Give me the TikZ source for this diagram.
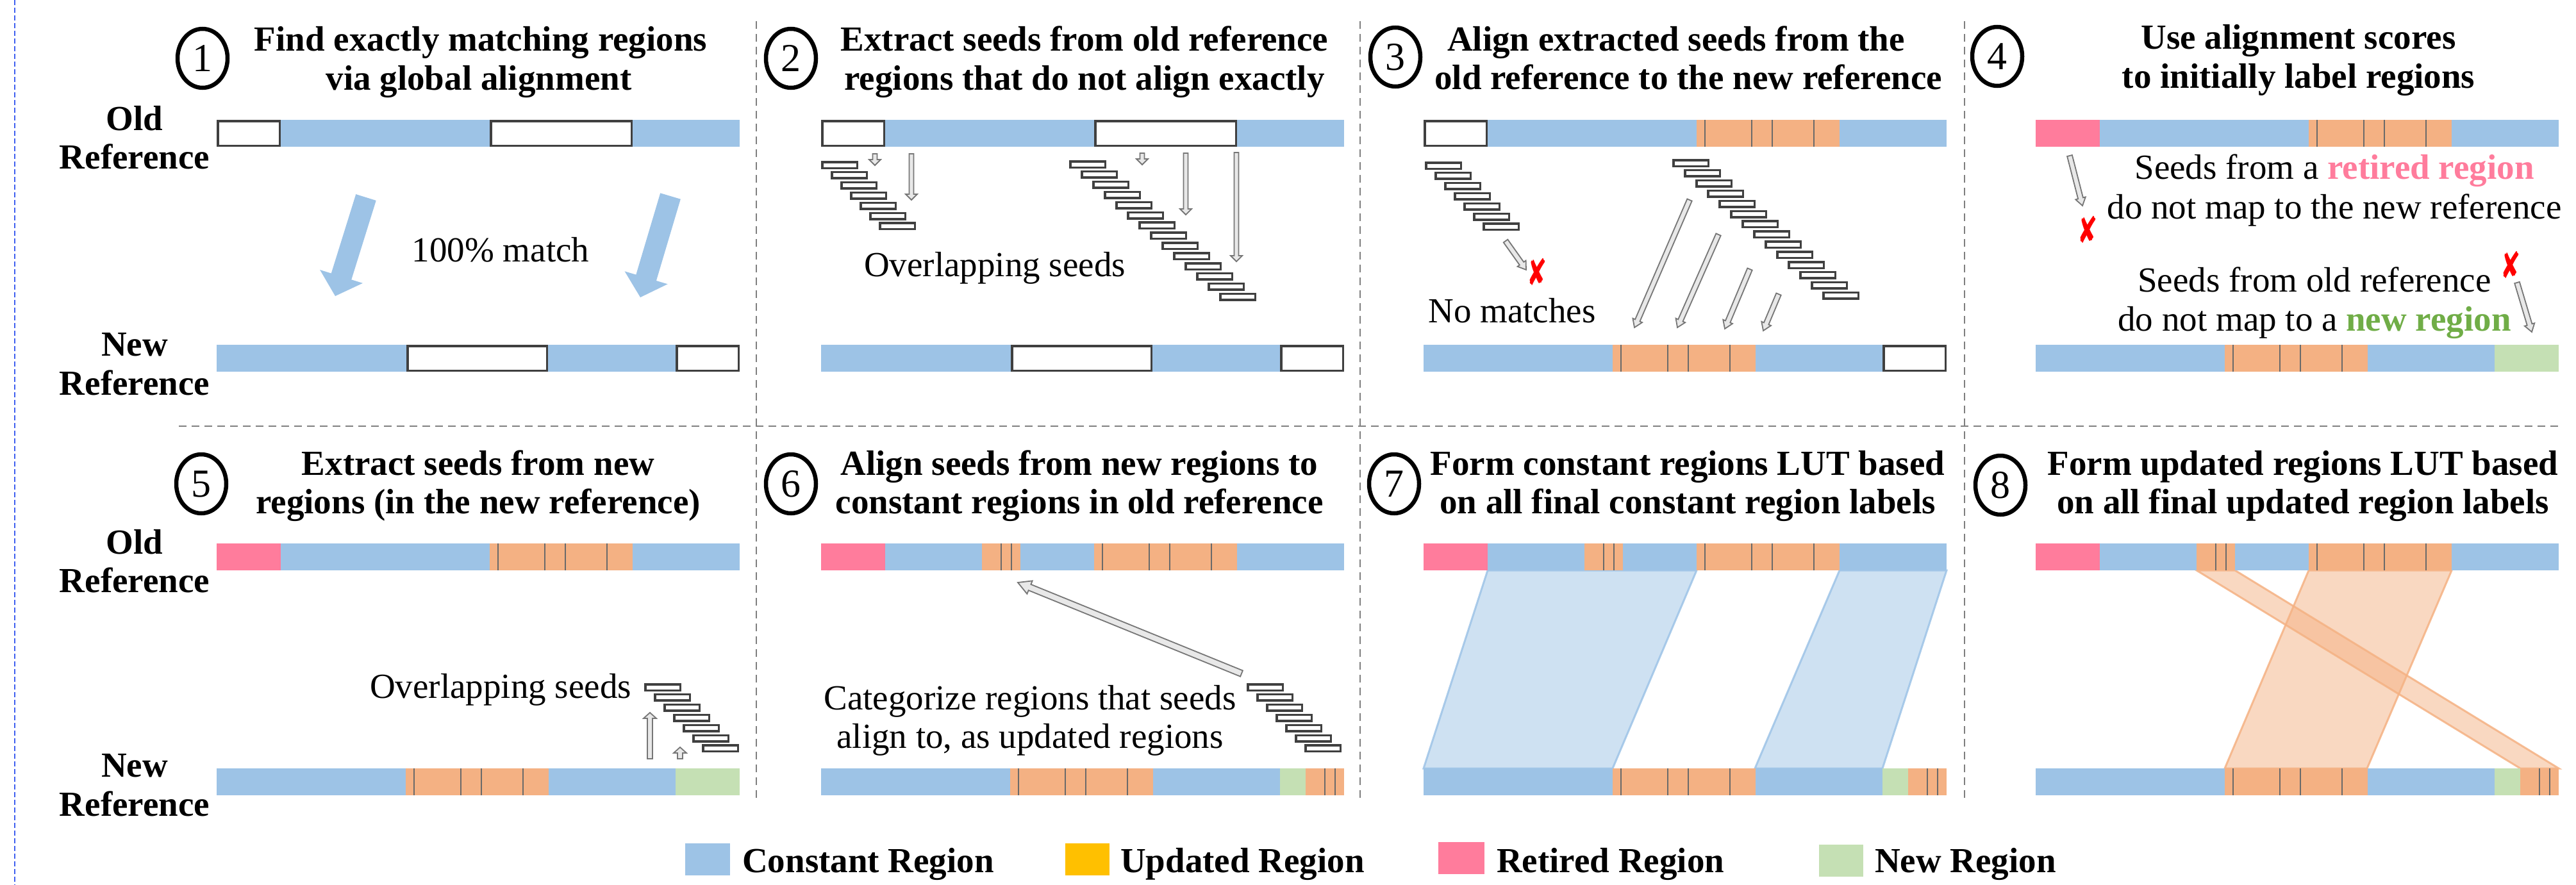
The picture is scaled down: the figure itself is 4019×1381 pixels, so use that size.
\documentclass[tikz,border=0pt]{standalone}
\usepackage{fontspec}
\setmainfont{Liberation Serif}
\newfontfamily\symfont{DejaVu Sans}
\usetikzlibrary{calc,shapes.geometric}
\definecolor{cblue}{HTML}{9DC3E6}
\definecolor{uorange}{HTML}{F4B183}
\definecolor{rpink}{HTML}{FF7C9C}
\definecolor{ngreen}{HTML}{C5E0B4}
\definecolor{ugold}{HTML}{FFC000}
\definecolor{tgreen}{HTML}{70AD47}
\definecolor{seedc}{HTML}{404040}
\definecolor{afill}{HTML}{E8E8E8}
\definecolor{adraw}{HTML}{767676}
\definecolor{sepc}{HTML}{7F7F7F}
\definecolor{tickc}{HTML}{6A6A6A}
\definecolor{xred}{HTML}{FF0000}
\definecolor{bluedash}{HTML}{4060F0}
\newcommand{\tfs}{\fontsize{55}{60}\selectfont}
\newcommand{\myblk}[5]{\fill[#5] ({#1+#3},#2) rectangle ({#1+#4},{#2+42});}
\newcommand{\mytck}[3]{\draw[tickc, line width=2pt] ({#1+#3},#2) -- ({#1+#3},{#2+42});}
\newcommand{\mywbx}[4]{\draw[wbox] ({#1+#3+1.75},{#2+1.75}) rectangle ({#1+#4-1.75},{#2+40.25});}
\newcommand{\myupd}[3]{\myblk{#1}{#2}{#3}{#3+223}{uorange}\mytck{#1}{#2}{#3+13}\mytck{#1}{#2}{#3+86}\mytck{#1}{#2}{#3+118}\mytck{#1}{#2}{#3+183}}
\newcommand{\mysmu}[3]{\myblk{#1}{#2}{#3}{#3+60}{uorange}\mytck{#1}{#2}{#3+30}\mytck{#1}{#2}{#3+46}}
\newcommand{\mybar}[2]{\myblk{#1}{#2}{0}{816}{cblue}}
\newcommand{\myseeds}[5]{\foreach \i in {0,...,#5} {\draw[seedbox] ({#1+#3*\i+1.75},{#2+#4*\i+1.75}) rectangle ++(54.5,9.5);}}
\newcommand{\redcross}{\scalebox{0.85}[1.3]{✘}}
% #1 start, #2 end, #3 half shaft, #4 half head, #5 head length, #6 style
\newcommand{\myarrow}[6]{%
  \coordinate (hh) at ($(#2)!#5pt!(#1)$);
  \filldraw[#6] ($(#1)!#3pt!90:(#2)$) -- ($(hh)!#3pt!90:(#2)$) -- ($(hh)!#4pt!90:(#2)$) -- (#2)
    -- ($(hh)!#4pt!-90:(#2)$) -- ($(hh)!#3pt!-90:(#2)$) -- ($(#1)!#3pt!-90:(#2)$) -- cycle;}
\tikzset{
  titletxt/.style={font=\tfs\bfseries, anchor=base, inner sep=0pt},
  bodytxt/.style={font=\tfs, anchor=base, inner sep=0pt},
  lbltxt/.style={font=\tfs\bfseries, anchor=base, inner sep=0pt},
  legtxt/.style={font=\tfs\bfseries, anchor=base west, inner sep=0pt},
  numcirc/.style={ellipse, draw, line width=6.5pt, minimum width=78pt, minimum height=92pt, inner sep=0pt, font=\fontsize{62}{62}\selectfont},
  seedbox/.style={draw=seedc, line width=3.5pt, fill=white},
  wbox/.style={draw=seedc, line width=3.5pt, fill=white},
  harr/.style={draw=adraw, fill=afill, line width=1.8pt, line join=miter},
  bigarr/.style={fill=cblue, draw=none},
  sepline/.style={draw=sepc, line width=2pt, dash pattern=on 12pt off 8pt},
  redx/.style={text=xred, font=\symfont\fontsize{44}{44}\selectfont, inner sep=0pt},
  lutblue/.style={fill=cblue, fill opacity=0.5, draw=cblue, draw opacity=0.85, line width=3pt, line join=miter},
  lutorange/.style={fill=uorange, fill opacity=0.5, draw=uorange, draw opacity=0.85, line width=3pt, line join=miter},
}
\begin{document}
\begin{tikzpicture}[x=1pt,y=-1pt]
\useasboundingbox (0,0) rectangle (4019,1381);
% separators
\draw[bluedash, line width=2.5pt, dash pattern=on 8pt off 4pt] (23,0) -- (23,1381);
\draw[sepline] (279,665) -- (3991,665);
\foreach \sx in {1180,2122,3065} {\draw[sepline] (\sx,33) -- (\sx,1247);}

% row labels
\node[lbltxt] (old1a) at (210,203) {Old};
\node[lbltxt] (old1b) at (210,263) {Reference};
\node[lbltxt] (new1a) at (210,555) {New};
\node[lbltxt] (new1b) at (210,616) {Reference};
\node[lbltxt] (old2a) at (210,864) {Old};
\node[lbltxt] (old2b) at (210,924) {Reference};
\node[lbltxt] (new2a) at (210,1212) {New};
\node[lbltxt] (new2b) at (210,1273) {Reference};

% circles and titles
\node[numcirc] (c1) at (316,91) {1};
\node[numcirc] (c2) at (1234,91) {2};
\node[numcirc] (c3) at (2177,89) {3};
\node[numcirc] (c4) at (3116,88) {4};
\node[numcirc] (c5) at (314,755) {5};
\node[numcirc] (c6) at (1234,755) {6};
\node[numcirc] (c7) at (2175,755) {7};
\node[numcirc] (c8) at (3121,757) {8};

\node[titletxt] (t1a) at (750,80) {Find exactly matching regions};
\node[titletxt] (t1b) at (747,140) {via global alignment};
\node[titletxt] (t2a) at (1692,80) {Extract seeds from old reference};
\node[titletxt] (t2b) at (1692,140) {regions that do not align exactly};
\node[titletxt] (t3a) at (2615,79) {Align extracted seeds from the};
\node[titletxt] (t3b) at (2634,139) {old reference to the new reference};
\node[titletxt] (t4a) at (3586,77) {Use alignment scores};
\node[titletxt] (t4b) at (3586,137) {to initially label regions};
\node[titletxt] (t5a) at (746,741) {Extract seeds from new};
\node[titletxt] (t5b) at (746,801) {regions (in the new reference)};
\node[titletxt] (t6a) at (1684,741) {Align seeds from new regions to};
\node[titletxt] (t6b) at (1684,801) {constant regions in old reference};
\node[titletxt] (t7a) at (2633,741) {Form constant regions LUT based};
\node[titletxt] (t7b) at (2633,801) {on all final constant region labels};
\node[titletxt] (t8a) at (3593,741) {Form updated regions LUT based};
\node[titletxt] (t8b) at (3593,801) {on all final updated region labels};

% ---------- Panel 1
\mybar{338}{187} \mywbx{338}{187}{0}{100} \mywbx{338}{187}{426}{649}
\mybar{338}{538} \mywbx{338}{538}{296}{517} \mywbx{338}{538}{716}{816}
\coordinate (b1s) at (571,308); \coordinate (b1e) at (523,462);
\coordinate (b2s) at (1046,306); \coordinate (b2e) at (999,464);
\myarrow{b1s}{b1e}{16.5}{35}{32}{bigarr}
\myarrow{b2s}{b2e}{16.5}{35}{32}{bigarr}
\node[bodytxt] (m1) at (781,408) {100\% match};

% ---------- Panel 2
\mybar{1281}{187} \mywbx{1281}{187}{0}{100} \mywbx{1281}{187}{426}{649}
\mybar{1281}{538} \mywbx{1281}{538}{296}{517} \mywbx{1281}{538}{716}{816}
\myseeds{1281}{251}{15}{15.9}{6}
\myseeds{1668}{250}{18}{15.9}{13}
\coordinate (a2as) at (1365,240); \coordinate (a2ae) at (1365,258);
\coordinate (a2bs) at (1422,240); \coordinate (a2be) at (1422,312);
\coordinate (a2cs) at (1782,239); \coordinate (a2ce) at (1782,257);
\coordinate (a2ds) at (1850,239); \coordinate (a2de) at (1850,335);
\coordinate (a2es) at (1929,238); \coordinate (a2ee) at (1929,408);
\myarrow{a2as}{a2ae}{3.5}{9}{9}{harr}
\myarrow{a2bs}{a2be}{3.5}{9}{9}{harr}
\myarrow{a2cs}{a2ce}{3.5}{9}{9}{harr}
\myarrow{a2ds}{a2de}{3.5}{9}{9}{harr}
\myarrow{a2es}{a2ee}{3.5}{9}{9}{harr}
\node[bodytxt] (ov2) at (1552,431) {Overlapping seeds};

% ---------- Panel 3
\mybar{2221}{187} \mywbx{2221}{187}{0}{100} \myupd{2221}{187}{426}
\mybar{2221}{538} \myupd{2221}{538}{295} \mywbx{2221}{538}{716}{816}
\myseeds{2223}{252}{15}{15.9}{6}
\myseeds{2609}{248}{18}{15.9}{13}
\coordinate (a3as) at (2349,376); \coordinate (a3ae) at (2381,421);
\coordinate (a3bs) at (2636,312); \coordinate (a3be) at (2550,511);
\coordinate (a3cs) at (2681,366); \coordinate (a3ce) at (2617,511);
\coordinate (a3ds) at (2730,420); \coordinate (a3de) at (2691,513);
\coordinate (a3es) at (2775,459); \coordinate (a3ee) at (2751,516);
\myarrow{a3as}{a3ae}{4}{8}{12}{harr}
\myarrow{a3bs}{a3be}{4}{8}{12}{harr}
\myarrow{a3cs}{a3ce}{4}{8}{12}{harr}
\myarrow{a3ds}{a3de}{4}{8}{12}{harr}
\myarrow{a3es}{a3ee}{4}{8}{12}{harr}
\node[redx] (x3) at (2398,424) {\redcross};
\node[bodytxt] (nm3) at (2359,503) {No matches};

% ---------- Panel 4
\mybar{3176}{187} \myblk{3176}{187}{0}{100}{rpink} \myupd{3176}{187}{426}
\mybar{3176}{538} \myupd{3176}{538}{295} \myblk{3176}{538}{716}{816}{ngreen}
\node[bodytxt] (s4a) at (3642,279) {Seeds from a \textcolor{rpink}{\bfseries retired region}};
\node[bodytxt] (s4b) at (3642,341) {do not map to the new reference};
\node[bodytxt] (s4c) at (3611,455) {Seeds from old reference};
\node[bodytxt] (s4d) at (3611,516) {do not map to a \textcolor{tgreen}{\bfseries new region}};
\coordinate (a4as) at (3229,243); \coordinate (a4ae) at (3249,321);
\coordinate (a4bs) at (3927,441); \coordinate (a4be) at (3950,518);
\myarrow{a4as}{a4ae}{4}{8}{12}{harr}
\myarrow{a4bs}{a4be}{4}{8}{12}{harr}
\node[redx] (x4a) at (3257,358) {\redcross};
\node[redx] (x4b) at (3917,413) {\redcross};

% ---------- Panel 5
\mybar{338}{848} \myblk{338}{848}{0}{100}{rpink} \myupd{338}{848}{426}
\mybar{338}{1199} \myupd{338}{1199}{295} \myblk{338}{1199}{716}{816}{ngreen}
\myseeds{1005}{1066}{15}{15.9}{6}
\coordinate (a5as) at (1014,1184); \coordinate (a5ae) at (1014,1112);
\coordinate (a5bs) at (1061,1184); \coordinate (a5be) at (1061,1166);
\myarrow{a5as}{a5ae}{4}{10}{9}{harr}
\myarrow{a5bs}{a5be}{4}{10}{9}{harr}
\node[bodytxt] (ov5) at (781,1089) {Overlapping seeds};

% ---------- Panel 6
\mybar{1281}{848} \myblk{1281}{848}{0}{100}{rpink} \mysmu{1281}{848}{251} \myupd{1281}{848}{426}
\mybar{1281}{1199} \myupd{1281}{1199}{295} \myblk{1281}{1199}{716}{756}{ngreen} \mysmu{1281}{1199}{756}
\myseeds{1945}{1066}{15}{15.9}{6}
\coordinate (a6s) at (1937,1051); \coordinate (a6e) at (1588,909);
\myarrow{a6s}{a6e}{5}{11}{20}{harr}
\node[bodytxt] (cat6a) at (1607,1107) {Categorize regions that seeds};
\node[bodytxt] (cat6b) at (1607,1167) {align to, as updated regions};

% ---------- Panel 7
\filldraw[lutblue] (2321,890) -- (2647,890) -- (2516,1199) -- (2221,1199) -- cycle;
\filldraw[lutblue] (2870,890) -- (3037,890) -- (2937,1199) -- (2738,1199) -- cycle;
\mybar{2221}{848} \myblk{2221}{848}{0}{100}{rpink} \mysmu{2221}{848}{251} \myupd{2221}{848}{426}
\mybar{2221}{1199} \myupd{2221}{1199}{295} \myblk{2221}{1199}{716}{756}{ngreen} \mysmu{2221}{1199}{756}

% ---------- Panel 8
\filldraw[lutorange] (3602,890) -- (3825,890) -- (3693,1199) -- (3471,1199) -- cycle;
\filldraw[lutorange] (3427,890) -- (3487,890) -- (3992,1199) -- (3932,1199) -- cycle;
\mybar{3176}{848} \myblk{3176}{848}{0}{100}{rpink} \mysmu{3176}{848}{251} \myupd{3176}{848}{426}
\mybar{3176}{1199} \myupd{3176}{1199}{295} \myblk{3176}{1199}{716}{756}{ngreen} \mysmu{3176}{1199}{756}

% ---------- Legend
\fill[cblue] (1069,1316) rectangle (1139,1366);
\node[legtxt] (lg1) at (1158,1361) {Constant Region};
\fill[ugold] (1662,1316) rectangle (1731,1366);
\node[legtxt] (lg2) at (1748,1361) {Updated Region};
\fill[rpink] (2244,1314) rectangle (2316,1364);
\node[legtxt] (lg3) at (2335,1361) {Retired Region};
\fill[ngreen] (2838,1318) rectangle (2907,1368);
\node[legtxt] (lg4) at (2925,1361) {New Region};
\end{tikzpicture}
\end{document}
